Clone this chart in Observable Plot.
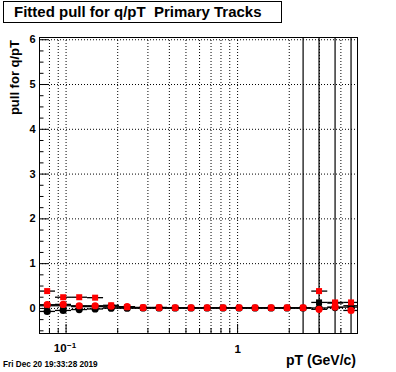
<!DOCTYPE html>
<html><head><meta charset="utf-8">
<script src="https://cdn.jsdelivr.net/npm/d3@7"></script>
<script src="https://cdn.jsdelivr.net/npm/@observablehq/plot@0.6"></script>
<style>
html,body{margin:0;padding:0;background:#fff;}
#chart{position:relative;width:396px;height:372px;}
svg{display:block;}
</style></head><body><div id="chart"></div>
<script>
// bin centers and edges in pT (GeV/c)
const pT    = [0.0776, 0.0962, 0.1193, 0.1477, 0.1832, 0.2270, 0.2814, 0.3486, 0.4325, 0.5356,
               0.6644, 0.8228, 1.020, 1.264, 1.568, 1.942, 2.409, 2.984, 3.700, 4.585];
const binLo = [0.070, 0.0868, 0.1076, 0.1334, 0.1654, 0.2050, 0.2542, 0.3152, 0.3908, 0.4845,
               0.6007, 0.7448, 0.9234, 1.145, 1.420, 1.760, 2.182, 2.706, 3.355, 4.159];
const binHi = [0.0868, 0.1076, 0.1334, 0.1654, 0.2050, 0.2542, 0.3152, 0.3908, 0.4845, 0.6007,
               0.7448, 0.9234, 1.145, 1.420, 1.760, 2.182, 2.706, 3.355, 4.159, 5.000];

// series values
const blackCircle = [-0.067, -0.045, -0.025, -0.012, 0.005, 0.005, 0.01, 0.01, 0.01, 0.01,
                     0.01, 0.01, 0.01, 0.01, 0.01, 0.01, 0.01, 0.01, 0.02, 0.03];
const blackCircleErr = [0.02, 0.02, 0.02, 0.02, 0.02, 0.02, 0.02, 0.02, 0.02, 0.02,
                        0.02, 0.02, 0.02, 0.02, 0.02, 0.02, 0.02, 0.03, 0.03, 0.04];
const blackSquare = [0.06, 0.06, 0.04, 0.04, 0.03, 0.02, 0.01, 0.01, 0.01, 0.01,
                     0.01, 0.01, 0.01, 0.01, 0.01, 0.01, 0.01, 0.134, 0.12, 0.06];
const blackSquareErr = [0.02, 0.02, 0.02, 0.02, 0.02, 0.02, 0.02, 0.02, 0.02, 0.02,
                        0.02, 0.02, 0.02, 0.02, 0.02, 0.02, 20, 20, 20, 20];
const redCircle = [0.083, 0.09, 0.06, 0.06, 0.05, 0.04, 0.02, 0.02, 0.015, 0.015,
                   0.015, 0.015, 0.015, 0.015, 0.015, 0.015, 0.015, -0.02, 0.03, -0.045];
const redCircleErr = [0.02, 0.02, 0.02, 0.02, 0.02, 0.02, 0.02, 0.02, 0.02, 0.02,
                      0.02, 0.02, 0.02, 0.02, 0.02, 0.02, 0.02, 0.03, 0.03, 0.04];
const redSquare = [0.387, 0.25, 0.25, 0.24, 0.07, 0.03, 0.02, 0.02, 0.015, 0.015,
                   0.015, 0.015, 0.015, 0.015, 0.015, 0.015, 0.015, 0.387, 0.134, 0.134];
const redSquareErr = [0.02, 0.02, 0.02, 0.02, 0.02, 0.02, 0.02, 0.02, 0.02, 0.02,
                      0.02, 0.02, 0.02, 0.02, 0.02, 0.02, 0.02, 0.03, 0.03, 0.04];

// axis ticks
const xMajor = [0.1, 1];
const xMinor = [0.07, 0.08, 0.09, 0.2, 0.3, 0.4, 0.5, 0.6, 0.7, 0.8, 0.9, 2, 3, 4, 5];
const xGrid  = [0.08, 0.09, 0.1, 0.2, 0.3, 0.4, 0.5, 0.6, 0.7, 0.8, 0.9, 1, 2, 3, 4];
const yMajor = [0, 1, 2, 3, 4, 5, 6];
const yMinor = [-0.5, -0.25, 0.25, 0.5, 0.75, 1.25, 1.5, 1.75, 2.25, 2.5, 2.75, 3.25, 3.5, 3.75,
                4.25, 4.5, 4.75, 5.25, 5.5, 5.75];

const titleText = "Fitted pull for q/pT  Primary Tracks";
const yTitle = "pull for q/pT";
const xTitle = "pT (GeV/c)";
const dateText = "Fri Dec 20 19:33:28 2019";

function rows(vals, errs) {
  return pT.map((x, i) => ({x, lo: binLo[i], hi: binHi[i], y: vals[i], e: errs[i]}));
}
const sBC = rows(blackCircle, blackCircleErr);
const sBS = rows(blackSquare, blackSquareErr);
const sRC = rows(redCircle, redCircleErr);
const sRS = rows(redSquare, redSquareErr);

function seriesMarks(data, color, symbol, r) {
  return [
    Plot.ruleY(data, {y: "y", x1: "lo", x2: "hi", stroke: "#000", strokeWidth: 1.3, clip: true}),
    Plot.ruleX(data, {x: "x", y1: d => d.y - d.e, y2: d => d.y + d.e, stroke: "#000", strokeWidth: 1.2, clip: true}),
    Plot.dot(data, {x: "x", y: "y", fill: color, stroke: "none", symbol, r, clip: true})
  ];
}

const font = "'Liberation Sans', Arial, Helvetica, sans-serif";

const plot = Plot.plot({
  width: 396, height: 372,
  marginLeft: 39, marginRight: 39, marginTop: 37, marginBottom: 39,
  x: {type: "log", domain: [0.07, 5]},
  y: {domain: [-0.56, 6.05]},
  style: {fontFamily: font, background: "#fff", color: "#000", overflow: "visible"},
  marks: [
    Plot.gridX(xGrid, {stroke: "#000", strokeOpacity: 1, strokeDasharray: "1,2", strokeWidth: 1}),
    Plot.gridY(yMajor, {stroke: "#000", strokeOpacity: 1, strokeDasharray: "1,2", strokeWidth: 1}),
    ...seriesMarks(sBC, "#000", "circle", 3.6),
    ...seriesMarks(sBS, "#000", "square", 3.4),
    ...seriesMarks(sRC, "#ff0000", "circle", 3.6),
    ...seriesMarks(sRS, "#ff0000", "square", 3.4),
    Plot.frame({stroke: "#000", strokeWidth: 1}),
    // inward ticks
    Plot.axisX(xMajor, {tickSize: -9, fill: "none", label: null, stroke: "#000"}),
    Plot.axisX(xMinor, {tickSize: -5, fill: "none", label: null, stroke: "#000"}),
    Plot.axisY(yMajor, {tickSize: -9, fill: "none", label: null, stroke: "#000"}),
    Plot.axisY(yMinor, {tickSize: -4.5, fill: "none", label: null, stroke: "#000"}),
    // tick labels
    Plot.axisY(yMajor, {tickSize: 0, tickPadding: 4, label: null, fontSize: 11, fontWeight: "bold", tickFormat: d => String(d)}),
    Plot.axisX([1], {tickSize: 0, tickPadding: 11, label: null, fontSize: 11.5, fontWeight: "bold", tickFormat: d => String(d)}),
    Plot.text([0.1], {x: d => d, frameAnchor: "bottom", text: () => "10", textAnchor: "end", lineAnchor: "top", dy: 10, dx: 0.5, fontSize: 11.5, fontWeight: "bold"}),
    Plot.text([0.1], {x: d => d, frameAnchor: "bottom", text: () => "\u22121", textAnchor: "start", lineAnchor: "top", dy: 8.5, dx: 1, fontSize: 8, fontWeight: "bold"})
  ]
});

document.getElementById("chart").appendChild(plot);

const svg = d3.select(plot);
// title box
svg.append("rect").attr("x", 3.5).attr("y", 1.5).attr("width", 278).attr("height", 21)
  .attr("fill", "#fff").attr("stroke", "#000").attr("stroke-width", 1);
svg.append("text").attr("x", 14).attr("y", 17).attr("text-anchor", "start")
  .style("white-space", "pre").attr("xml:space", "preserve").text(titleText)
  .attr("font-family", font).attr("font-weight", "bold").attr("font-size", 15).attr("fill", "#000");
// y title
svg.append("text").attr("transform", "translate(18.5,40) rotate(-90)").attr("text-anchor", "end")
  .text(yTitle).attr("font-family", font).attr("font-weight", "bold").attr("font-size", 13).attr("fill", "#000");
// x title
svg.append("text").attr("x", 356).attr("y", 365).attr("text-anchor", "end")
  .text(xTitle).attr("font-family", font).attr("font-weight", "bold").attr("font-size", 14).attr("fill", "#000");
// date
svg.append("text").attr("x", 3).attr("y", 366.5).attr("text-anchor", "start")
  .text(dateText).attr("font-family", font).attr("font-weight", "bold").attr("font-size", 8.2).attr("fill", "#000");
</script>
</body></html>
